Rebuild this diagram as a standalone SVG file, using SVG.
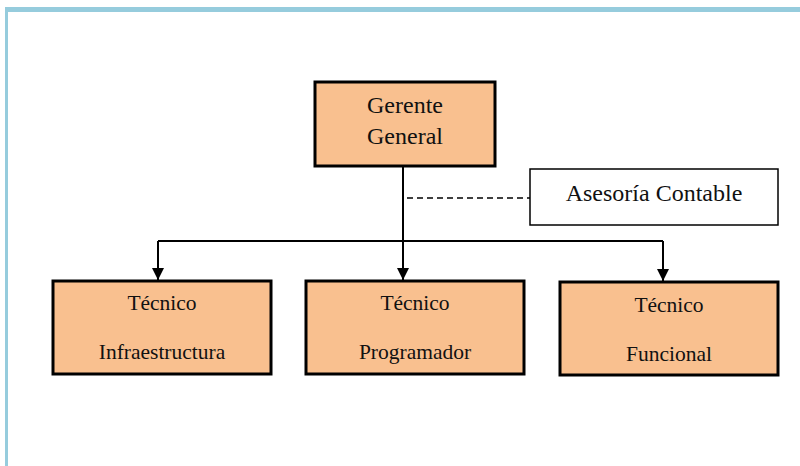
<svg xmlns="http://www.w3.org/2000/svg" width="800" height="466" viewBox="0 0 800 466">
<defs>
<style>
.box{fill:#F9C08F;stroke:#000;stroke-width:3}
.wbox{fill:#fff;stroke:#000;stroke-width:1.5}
.t{font-family:"Liberation Serif","Times New Roman",serif;fill:#111;text-anchor:middle}
.big{font-size:24px}
.sm{font-size:21.5px}
.ln{fill:none;stroke:#000;stroke-width:2}
.dash{fill:none;stroke:#000;stroke-width:1.5;stroke-dasharray:6 4}
</style>
<marker id="arr" markerWidth="12" markerHeight="12" refX="12" refY="6" orient="auto" markerUnits="userSpaceOnUse">
<path d="M0,0 L12,6 L0,12 Z" fill="#000"/>
</marker>
</defs>
<rect width="800" height="466" fill="#fff"/>
<g id="frame" fill="#96CCDD">
<rect x="5" y="7" width="795" height="5"/>
<rect x="5" y="7" width="3" height="459"/>
</g>
<g id="connectors">
<path class="ln" d="M403,167 V241"/>
<path class="ln" d="M158,241 H663"/>
<path class="ln" d="M158,241 V280" marker-end="url(#arr)"/>
<path class="ln" d="M403,241 V280" marker-end="url(#arr)"/>
<path class="ln" d="M663,241 V281" marker-end="url(#arr)"/>
<path class="dash" d="M407,198 H530"/>
</g>
<g id="gerente">
<rect class="box" x="315" y="82" width="180" height="84"/>
<text class="t big" x="405" y="113">Gerente</text>
<text class="t big" x="405" y="144">General</text>
</g>
<g id="asesoria">
<rect class="wbox" x="530" y="169" width="248" height="56"/>
<text class="t big" x="654" y="201">Asesoría Contable</text>
</g>
<g id="infra">
<rect class="box" x="53" y="281" width="218" height="93"/>
<text class="t sm" x="162" y="310">Técnico</text>
<text class="t sm" x="162" y="359">Infraestructura</text>
</g>
<g id="prog">
<rect class="box" x="306" y="281" width="218" height="93"/>
<text class="t sm" x="415" y="310">Técnico</text>
<text class="t sm" x="415" y="359">Programador</text>
</g>
<g id="func">
<rect class="box" x="560" y="282" width="218" height="93"/>
<text class="t sm" x="669" y="312">Técnico</text>
<text class="t sm" x="669" y="361">Funcional</text>
</g>
</svg>
